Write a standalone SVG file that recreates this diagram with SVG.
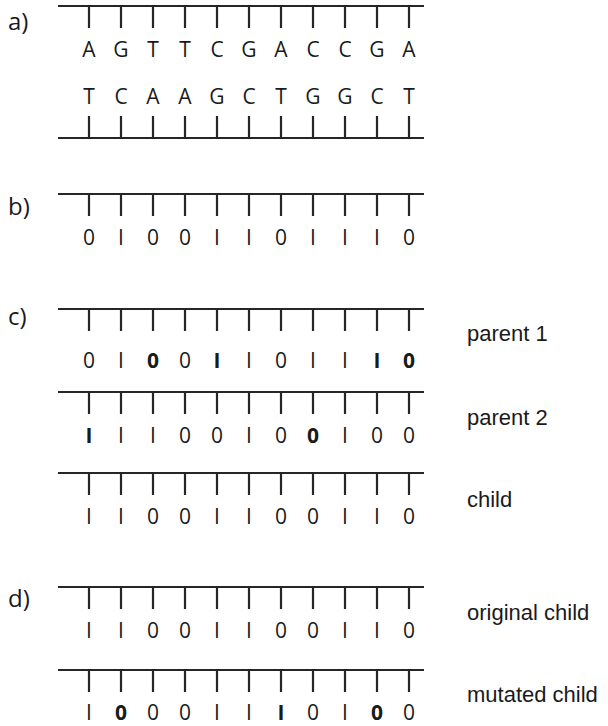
<svg xmlns="http://www.w3.org/2000/svg" width="608" height="726" viewBox="0 0 608 726">
  <style>
    .bb { stroke: #262626; stroke-width: 2.2; fill: none; }
    .tk { stroke: #262626; stroke-width: 2.2; fill: none; }
    .base { font-family: "Open Sans", "Noto Sans", sans-serif; font-size: 21px; fill: #1a1a1a; text-anchor: middle; }
    .b { font-weight: bold; }
    .part { font-family: "Open Sans", "Noto Sans", sans-serif; font-size: 24px; fill: #1a1a1a; }
    .lbl { font-family: "Liberation Sans", Arial, sans-serif; font-size: 22px; fill: #1a1a1a; }
  </style>
  <defs>
    <!-- 11 ticks hanging below a backbone, 32px apart -->
    <path id="ticks-down" class="tk" d="M89 0V22M121 0V22M153 0V22M185 0V22M217 0V22M249 0V22M281 0V22M313 0V22M345 0V22M377 0V22M409 0V22"/>
    <path id="ticks-up" class="tk" d="M89 0V-22M121 0V-22M153 0V-22M185 0V-22M217 0V-22M249 0V-22M281 0V-22M313 0V-22M345 0V-22M377 0V-22M409 0V-22"/>
  </defs>

  <!-- panel labels -->
  <g id="panel-labels">
    <text class="part" x="8" y="30">a)</text>
    <text class="part" x="8" y="215">b)</text>
    <text class="part" x="8" y="325">c)</text>
    <text class="part" x="8" y="607">d)</text>
  </g>

  <!-- a) double-stranded DNA -->
  <g id="dna-strand-top">
    <line class="bb" x1="58" y1="6" x2="424" y2="6"/>
    <use href="#ticks-down" y="6"/>
    <text class="base" y="57"><tspan x="89">A</tspan><tspan x="121">G</tspan><tspan x="153">T</tspan><tspan x="185">T</tspan><tspan x="217">C</tspan><tspan x="249">G</tspan><tspan x="281">A</tspan><tspan x="313">C</tspan><tspan x="345">C</tspan><tspan x="377">G</tspan><tspan x="409">A</tspan></text>
  </g>
  <g id="dna-strand-bottom">
    <text class="base" y="104"><tspan x="89">T</tspan><tspan x="121">C</tspan><tspan x="153">A</tspan><tspan x="185">A</tspan><tspan x="217">G</tspan><tspan x="249">C</tspan><tspan x="281">T</tspan><tspan x="313">G</tspan><tspan x="345">G</tspan><tspan x="377">C</tspan><tspan x="409">T</tspan></text>
    <use href="#ticks-up" y="138"/>
    <line class="bb" x1="58" y1="138" x2="424" y2="138"/>
  </g>

  <!-- b) binary chromosome -->
  <g id="binary">
    <line class="bb" x1="58" y1="194" x2="424" y2="194"/>
    <use href="#ticks-down" y="194"/>
    <text class="base" y="245"><tspan x="89">0</tspan><tspan x="121">I</tspan><tspan x="153">0</tspan><tspan x="185">0</tspan><tspan x="217">I</tspan><tspan x="249">I</tspan><tspan x="281">0</tspan><tspan x="313">I</tspan><tspan x="345">I</tspan><tspan x="377">I</tspan><tspan x="409">0</tspan></text>
  </g>

  <!-- c) crossover -->
  <g id="parent-1">
    <line class="bb" x1="58" y1="309" x2="424" y2="309"/>
    <use href="#ticks-down" y="309"/>
    <text class="base" y="368"><tspan x="89">0</tspan><tspan x="121">I</tspan><tspan x="153" class="b">0</tspan><tspan x="185">0</tspan><tspan x="217" class="b">I</tspan><tspan x="249">I</tspan><tspan x="281">0</tspan><tspan x="313">I</tspan><tspan x="345">I</tspan><tspan x="377" class="b">I</tspan><tspan x="409" class="b">0</tspan></text>
    <text class="lbl" x="467" y="341">parent 1</text>
  </g>
  <g id="parent-2">
    <line class="bb" x1="58" y1="392" x2="424" y2="392"/>
    <use href="#ticks-down" y="392"/>
    <text class="base" y="443"><tspan x="89" class="b">I</tspan><tspan x="121">I</tspan><tspan x="153">I</tspan><tspan x="185">0</tspan><tspan x="217">0</tspan><tspan x="249">I</tspan><tspan x="281">0</tspan><tspan x="313" class="b">0</tspan><tspan x="345">I</tspan><tspan x="377">0</tspan><tspan x="409">0</tspan></text>
    <text class="lbl" x="467" y="425">parent 2</text>
  </g>
  <g id="child">
    <line class="bb" x1="58" y1="473" x2="424" y2="473"/>
    <use href="#ticks-down" y="473"/>
    <text class="base" y="524"><tspan x="89">I</tspan><tspan x="121">I</tspan><tspan x="153">0</tspan><tspan x="185">0</tspan><tspan x="217">I</tspan><tspan x="249">I</tspan><tspan x="281">0</tspan><tspan x="313">0</tspan><tspan x="345">I</tspan><tspan x="377">I</tspan><tspan x="409">0</tspan></text>
    <text class="lbl" x="467" y="507">child</text>
  </g>

  <!-- d) mutation -->
  <g id="original-child">
    <line class="bb" x1="58" y1="587" x2="424" y2="587"/>
    <use href="#ticks-down" y="587"/>
    <text class="base" y="638"><tspan x="89">I</tspan><tspan x="121">I</tspan><tspan x="153">0</tspan><tspan x="185">0</tspan><tspan x="217">I</tspan><tspan x="249">I</tspan><tspan x="281">0</tspan><tspan x="313">0</tspan><tspan x="345">I</tspan><tspan x="377">I</tspan><tspan x="409">0</tspan></text>
    <text class="lbl" x="467" y="620">original child</text>
  </g>
  <g id="mutated-child">
    <line class="bb" x1="58" y1="670" x2="424" y2="670"/>
    <use href="#ticks-down" y="670"/>
    <text class="base" y="720"><tspan x="89">I</tspan><tspan x="121" class="b">0</tspan><tspan x="153">0</tspan><tspan x="185">0</tspan><tspan x="217">I</tspan><tspan x="249">I</tspan><tspan x="281" class="b">I</tspan><tspan x="313">0</tspan><tspan x="345">I</tspan><tspan x="377" class="b">0</tspan><tspan x="409">0</tspan></text>
    <text class="lbl" x="467" y="702">mutated child</text>
  </g>
</svg>
